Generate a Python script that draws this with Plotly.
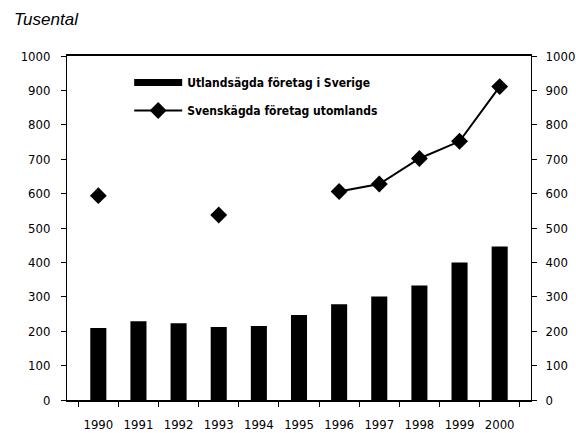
import plotly.graph_objects as go

years = ["1990", "1991", "1992", "1993", "1994", "1995",
         "1996", "1997", "1998", "1999", "2000"]
utlandsagda = [209, 229, 223, 212, 215, 247, 278, 301, 333, 400, 446]
svenskagda = [594, None, None, 538, None, None, 606, 628, 702, 752, 911]
y_ticks = [0, 100, 200, 300, 400, 500, 600, 700, 800, 900, 1000]

FONT = "DejaVu Sans Condensed, Liberation Sans Narrow, Arial Narrow, sans-serif"

fig = go.Figure()

fig.add_trace(go.Bar(
    x=years,
    y=utlandsagda,
    name="Utlandsägda företag i Sverige",
    marker=dict(color="black", line=dict(width=0)),
    showlegend=False,
))

# legend-only entry so the bar key is drawn as a wide block like the original
fig.add_trace(go.Scatter(
    x=[None], y=[None],
    name="<b>Utlandsägda företag i Sverige</b>",
    mode="lines",
    line=dict(color="black", width=7),
    legendgroup="a",
))

fig.add_trace(go.Scatter(
    x=years,
    y=svenskagda,
    name="<b>Svenskägda företag utomlands</b>",
    mode="lines+markers",
    line=dict(color="black", width=2),
    marker=dict(symbol="diamond", size=13, color="black"),
    connectgaps=False,
    yaxis="y2",
    legendgroup="b",
))

axis_common = dict(
    range=[0, 1000],
    tickvals=y_ticks,
    ticks="outside",
    ticklen=5,
    tickcolor="black",
    showline=True,
    linecolor="black",
    linewidth=1,
    showgrid=False,
    zeroline=False,
    automargin=False,
    tickfont=dict(family=FONT, size=13, color="black"),
)

fig.update_layout(
    width=576,
    height=433,
    paper_bgcolor="white",
    plot_bgcolor="white",
    margin=dict(l=67, r=45, t=56, b=33),
    bargap=0.6,
    font=dict(family=FONT, size=12, color="black"),
    xaxis=dict(
        type="category",
        tickson="boundaries",
        ticks="outside",
        ticklen=5,
        tickcolor="black",
        ticklabelstandoff=11,
        showline=True,
        linecolor="black",
        linewidth=2,
        mirror=True,
        showgrid=False,
        automargin=False,
        tickfont=dict(family=FONT, size=13, color="black"),
    ),
    yaxis=dict(side="left", ticklabelstandoff=8, **axis_common),
    yaxis2=dict(side="right", overlaying="y", ticklabelstandoff=6, **axis_common),
    legend=dict(
        x=0.134, y=0.965, xanchor="left", yanchor="top",
        bgcolor="rgba(0,0,0,0)",
        itemwidth=48,
        tracegroupgap=9,
        font=dict(family=FONT, size=12, color="black"),
    ),
    annotations=[dict(
        text="<i>Tusental</i>",
        xref="paper", yref="paper",
        x=-0.1185, y=1.105, xanchor="left", yanchor="middle",
        showarrow=False,
        font=dict(family="Liberation Sans, Arial", size=17, color="black"),
    )],
)

# drop the default page margin so the figure fills the window exactly
fig.write_html(
    "out.html",
    config={"displayModeBar": False},
    post_script="document.body.style.margin='0';",
)
